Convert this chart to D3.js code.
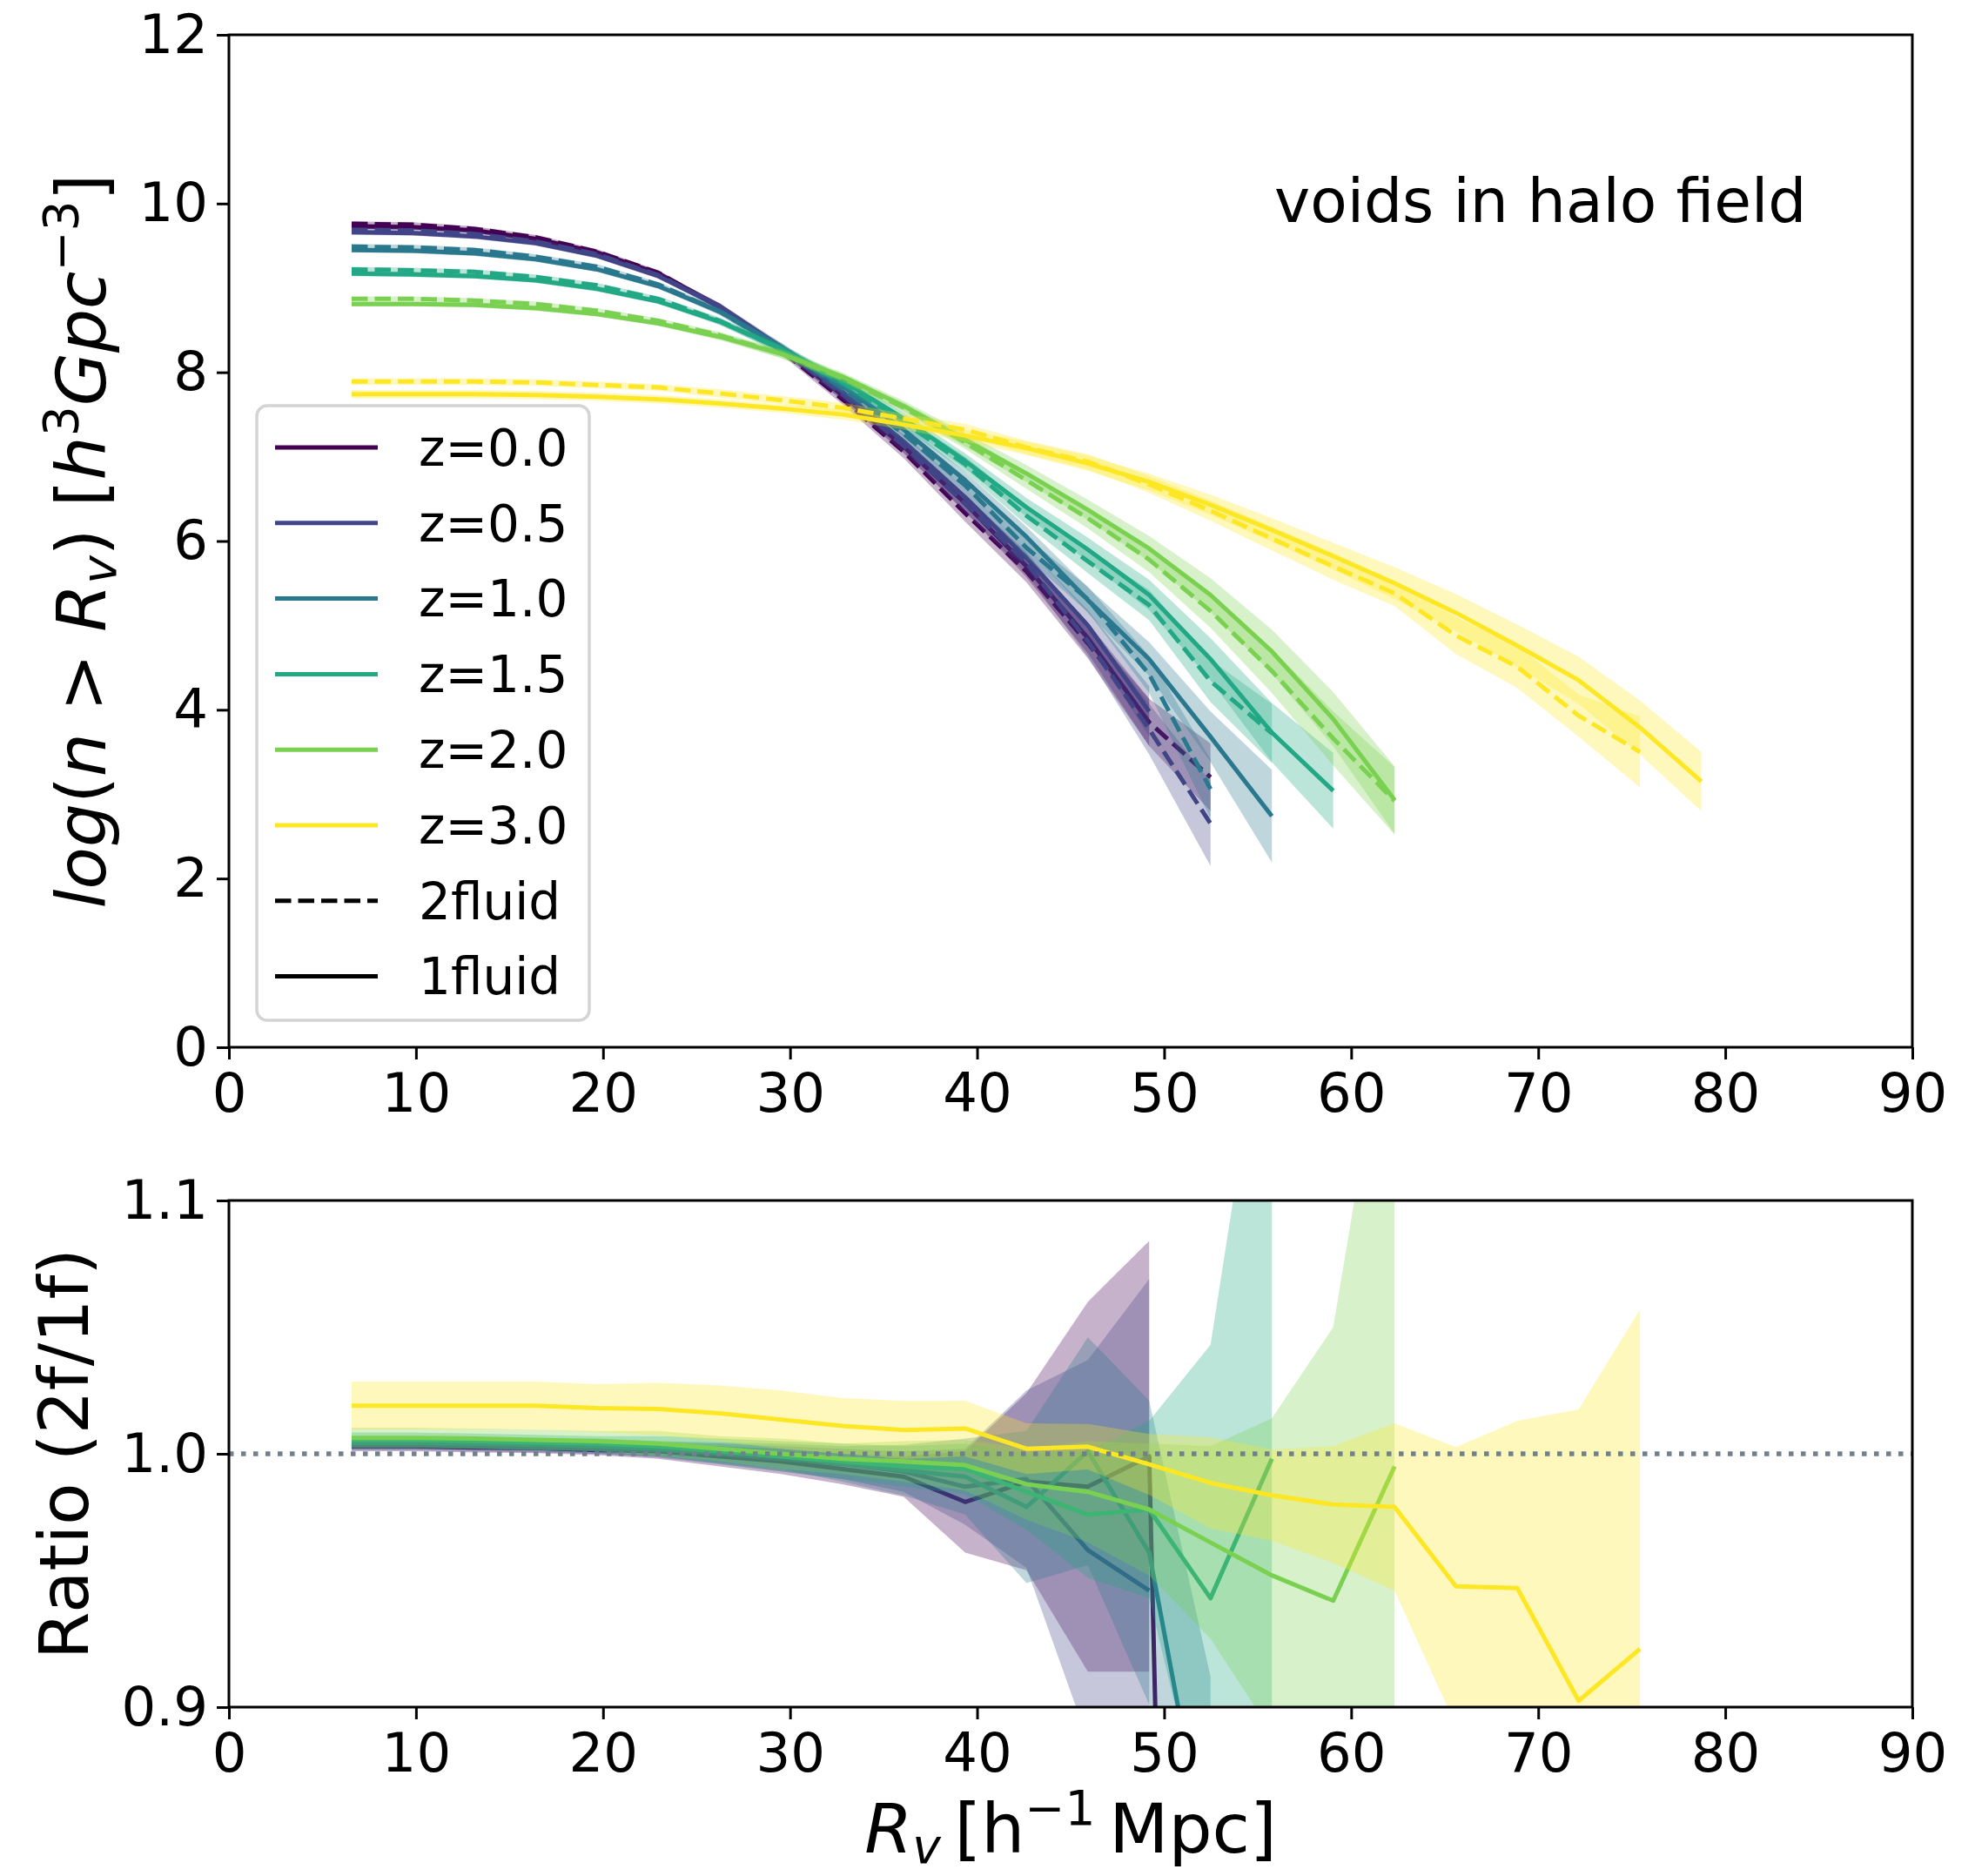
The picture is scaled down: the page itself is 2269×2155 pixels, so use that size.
<!DOCTYPE html>
<html>
<head>
<meta charset="UTF-8">
<title>voids in halo field</title>
<script src="https://d3js.org/d3.v7.min.js"></script>
<style>
  body { margin: 0; background: #fff; }
  text { font-family: 'DejaVu Sans', sans-serif; fill: #000; }
  .axis path, .axis line { stroke: #000; stroke-width: 3px; }
  .axis text { font-size: 62.5px; font-family: 'DejaVu Sans', sans-serif; }
</style>
</head>
<body>
<script>
// void radius grid [h^-1 Mpc]
const R = [6.56, 9.84, 13.12, 16.4, 19.68, 22.96, 26.24, 29.52, 32.8, 36.08, 39.36, 42.64,
           45.92, 49.2, 52.48, 55.76, 59.04, 62.32, 65.6, 68.88, 72.16, 75.44, 78.72];

const labels = ["z=0.0", "z=0.5", "z=1.0", "z=1.5", "z=2.0", "z=3.0"];
const colors = ["#440154", "#414487", "#2a788e", "#22a884", "#7ad151", "#fde725"];

// log(n>Rv), 1fluid
const one_z00 = [9.73, 9.72, 9.68, 9.58, 9.42, 9.17, 8.78, 8.28, 7.73, 7.12, 6.45, 5.7, 4.85, 3.85];
const one_z05 = [9.66, 9.65, 9.61, 9.53, 9.38, 9.14, 8.78, 8.3, 7.77, 7.18, 6.52, 5.8, 5.0, 3.98];
const one_z10 = [9.45, 9.44, 9.41, 9.34, 9.22, 9.02, 8.72, 8.3, 7.84, 7.32, 6.72, 6.05, 5.3, 4.6, 3.68, 2.74];
const one_z15 = [9.17, 9.16, 9.14, 9.09, 8.99, 8.84, 8.6, 8.28, 7.9, 7.45, 6.95, 6.4, 5.9, 5.36, 4.6, 3.73, 3.04];
const one_z20 = [8.81, 8.81, 8.8, 8.76, 8.69, 8.58, 8.42, 8.22, 7.95, 7.6, 7.2, 6.8, 6.37, 5.91, 5.36, 4.69, 3.89, 2.93];
const one_z30 = [7.74, 7.74, 7.74, 7.73, 7.71, 7.68, 7.63, 7.57, 7.5, 7.38, 7.25, 7.1, 6.92, 6.7, 6.43, 6.13,
                 5.82, 5.5, 5.15, 4.76, 4.35, 3.79, 3.15];

// log(n>Rv), 2fluid
const two_z00 = [9.76, 9.75, 9.70, 9.60, 9.43, 9.18, 8.77, 8.26, 7.68, 7.06, 6.33, 5.64, 4.79, 3.85, 3.2];
const two_z05 = [9.69, 9.68, 9.64, 9.55, 9.40, 9.15, 8.78, 8.28, 7.74, 7.13, 6.44, 5.74, 4.81, 3.77, 2.65];
const two_z10 = [9.49, 9.48, 9.45, 9.37, 9.25, 9.04, 8.72, 8.29, 7.81, 7.27, 6.66, 5.92, 5.31, 4.42, 3.06];
const two_z15 = [9.22, 9.21, 9.19, 9.13, 9.03, 8.87, 8.61, 8.27, 7.88, 7.41, 6.91, 6.30, 5.76, 5.24, 4.34, 3.72];
const two_z20 = [8.87, 8.87, 8.85, 8.81, 8.73, 8.61, 8.44, 8.22, 7.93, 7.58, 7.17, 6.72, 6.27, 5.78, 5.17, 4.46, 3.66, 2.92];
const two_z30 = [7.89, 7.89, 7.89, 7.88, 7.85, 7.82, 7.75, 7.67, 7.58, 7.45, 7.32, 7.11, 6.94, 6.67, 6.36, 6.03,
                 5.70, 5.38, 4.88, 4.51, 3.93, 3.50];

// half width of shaded bands, upper panel
const err1_z00 = [0.03, 0.03, 0.03, 0.03, 0.03, 0.03, 0.04, 0.05, 0.06, 0.08, 0.1, 0.13, 0.18, 0.28];
const err1_z05 = [0.03, 0.03, 0.03, 0.03, 0.03, 0.03, 0.04, 0.05, 0.06, 0.08, 0.1, 0.13, 0.18, 0.3];
const err1_z10 = [0.03, 0.03, 0.03, 0.03, 0.03, 0.03, 0.04, 0.05, 0.06, 0.08, 0.1, 0.12, 0.15, 0.2, 0.3, 0.55];
const err1_z15 = [0.03, 0.03, 0.03, 0.03, 0.03, 0.03, 0.04, 0.05, 0.06, 0.07, 0.09, 0.11, 0.14, 0.18, 0.25, 0.35, 0.45];
const err1_z20 = [0.03, 0.03, 0.03, 0.03, 0.03, 0.03, 0.04, 0.05, 0.05, 0.06, 0.08, 0.1, 0.12, 0.15, 0.2, 0.26, 0.32, 0.4];
const err1_z30 = [0.05, 0.05, 0.05, 0.05, 0.05, 0.05, 0.05, 0.05, 0.06, 0.06, 0.07, 0.08, 0.09, 0.1, 0.12, 0.14,
                  0.16, 0.19, 0.22, 0.25, 0.28, 0.32, 0.35];
const err2_z00 = [0.03, 0.03, 0.03, 0.03, 0.03, 0.03, 0.04, 0.05, 0.06, 0.08, 0.1, 0.13, 0.18, 0.28, 0.4];
const err2_z05 = [0.03, 0.03, 0.03, 0.03, 0.03, 0.03, 0.04, 0.05, 0.06, 0.08, 0.1, 0.13, 0.18, 0.3, 0.5];
const err2_z10 = [0.03, 0.03, 0.03, 0.03, 0.03, 0.03, 0.04, 0.05, 0.06, 0.08, 0.1, 0.12, 0.15, 0.22, 0.35];
const err2_z15 = [0.03, 0.03, 0.03, 0.03, 0.03, 0.03, 0.04, 0.05, 0.06, 0.07, 0.09, 0.11, 0.14, 0.18, 0.25, 0.35];
const err2_z20 = [0.03, 0.03, 0.03, 0.03, 0.03, 0.03, 0.04, 0.05, 0.05, 0.06, 0.08, 0.1, 0.12, 0.15, 0.2, 0.26, 0.32, 0.4];
const err2_z30 = [0.04, 0.04, 0.04, 0.04, 0.04, 0.04, 0.05, 0.05, 0.06, 0.06, 0.07, 0.08, 0.09, 0.1, 0.12, 0.14,
                  0.16, 0.15, 0.22, 0.25, 0.25, 0.42];

// ratio 2fluid / 1fluid
const ratio_z00 = [1.003, 1.003, 1.0025, 1.0023, 1.0015, 1.001, 0.999, 0.997, 0.994, 0.991, 0.981, 0.989, 0.987, 0.999, 0.0];
const ratio_z05 = [1.0035, 1.0035, 1.003, 1.0025, 1.002, 1.0015, 1.0, 0.998, 0.996, 0.993, 0.987, 0.990, 0.962, 0.946];
const ratio_z10 = [1.0043, 1.0043, 1.004, 1.0035, 1.003, 1.002, 1.0005, 0.999, 0.996, 0.9935, 0.991, 0.979, 1.001, 0.961, 0.832];
const ratio_z15 = [1.0054, 1.0054, 1.005, 1.0045, 1.004, 1.003, 1.001, 0.999, 0.997, 0.995, 0.994, 0.985, 0.976, 0.978, 0.943, 0.998];
const ratio_z20 = [1.0063, 1.0063, 1.006, 1.0055, 1.005, 1.004, 1.002, 1.0, 0.998, 0.997, 0.9955, 0.988, 0.985, 0.978,
                   0.965, 0.952, 0.942, 0.995];
const ratio_z30 = [1.019, 1.019, 1.019, 1.019, 1.018, 1.0177, 1.016, 1.0135, 1.011, 1.0094, 1.010, 1.002, 1.0028, 0.9958,
                   0.9885, 0.9836, 0.980, 0.979, 0.9477, 0.947, 0.9025, 0.923];

// half width of shaded bands, ratio panel
const rerr_z00 = [0.002, 0.002, 0.002, 0.002, 0.002, 0.003, 0.004, 0.005, 0.006, 0.008, 0.02, 0.035, 0.073, 0.085, null];
const rerr_z05 = [0.002, 0.002, 0.002, 0.002, 0.002, 0.003, 0.004, 0.005, 0.006, 0.008, 0.015, 0.035, 0.075, 0.123];
const rerr_z10 = [0.0025, 0.0025, 0.0025, 0.0025, 0.003, 0.003, 0.004, 0.005, 0.007, 0.01, 0.015, 0.03, 0.045, 0.06, 0.08];
const rerr_z15 = [0.003, 0.003, 0.003, 0.003, 0.003, 0.004, 0.005, 0.006, 0.007, 0.008, 0.01, 0.015, 0.025, 0.035, 0.1, 0.2];
const rerr_z20 = [0.004, 0.004, 0.004, 0.004, 0.004, 0.005, 0.005, 0.006, 0.006, 0.008, 0.01, 0.014, 0.02, 0.026,
                  0.038, 0.062, 0.108, 0.2];
const rerr_z30 = [0.0095, 0.0095, 0.0095, 0.0095, 0.0095, 0.0103, 0.011, 0.0115, 0.011, 0.0115, 0.011, 0.01, 0.009,
                  0.012, 0.018, 0.018, 0.023, 0.033, 0.055, 0.066, 0.115, 0.134];

const one = [one_z00, one_z05, one_z10, one_z15, one_z20, one_z30];
const two = [two_z00, two_z05, two_z10, two_z15, two_z20, two_z30];
const err1 = [err1_z00, err1_z05, err1_z10, err1_z15, err1_z20, err1_z30];
const err2 = [err2_z00, err2_z05, err2_z10, err2_z15, err2_z20, err2_z30];
const ratio = [ratio_z00, ratio_z05, ratio_z10, ratio_z15, ratio_z20, ratio_z30];
const rerr = [rerr_z00, rerr_z05, rerr_z10, rerr_z15, rerr_z20, rerr_z30];

const W = 2269, H = 2155;
const left = 263, right = 2197;
const top1 = 40, bot1 = 1203;
const top2 = 1379, bot2 = 1961;
const LW = 5;
const DASH = "18.5,8";

const svg = d3.select("body").append("svg")
  .attr("width", W).attr("height", H)
  .attr("viewBox", `0 0 ${W} ${H}`);

const x = d3.scaleLinear().domain([0, 90]).range([left, right]);
const y1 = d3.scaleLinear().domain([0, 12]).range([bot1, top1]);
const y2 = d3.scaleLinear().domain([0.9, 1.1]).range([bot2, top2]);

const defs = svg.append("defs");
defs.append("clipPath").attr("id", "clipTop").append("rect")
  .attr("x", left).attr("y", top1).attr("width", right - left).attr("height", bot1 - top1);
defs.append("clipPath").attr("id", "clipBot").append("rect")
  .attr("x", left).attr("y", top2).attr("width", right - left).attr("height", bot2 - top2);

// turn arrays into point lists
function pts(vals, errs) {
  return vals.map((v, i) => ({ x: R[i], y: v, e: errs ? errs[i] : null }));
}

// ---------- upper panel ----------
const gTop = svg.append("g").attr("clip-path", "url(#clipTop)");

function drawSeries(g, ys, data, errs, color, dashed) {
  const p = pts(data, errs);
  const area = d3.area()
    .defined(d => d.e != null)
    .x(d => x(d.x))
    .y0(d => ys(d.y - d.e))
    .y1(d => ys(d.y + d.e));
  g.append("path").datum(p)
    .attr("d", area)
    .attr("fill", color).attr("fill-opacity", 0.3).attr("stroke", "none");
  const line = d3.line().x(d => x(d.x)).y(d => ys(d.y));
  g.append("path").datum(p)
    .attr("d", line)
    .attr("fill", "none")
    .attr("stroke", color)
    .attr("stroke-width", LW)
    .attr("stroke-linejoin", "round")
    .attr("stroke-dasharray", dashed ? DASH : null);
}

for (let i = 0; i < labels.length; i++) {
  drawSeries(gTop, y1, one[i], err1[i], colors[i], false);
  drawSeries(gTop, y1, two[i], err2[i], colors[i], true);
}

// ---------- lower panel ----------
const gBot = svg.append("g").attr("clip-path", "url(#clipBot)");
for (let i = 0; i < labels.length; i++) {
  drawSeries(gBot, y2, ratio[i], rerr[i], colors[i], false);
}
gBot.append("line")
  .attr("x1", left).attr("x2", right)
  .attr("y1", y2(1.0)).attr("y2", y2(1.0))
  .attr("stroke", "#708090").attr("stroke-width", 5.5)
  .attr("stroke-dasharray", "5.5,8.5");

// ---------- axes ----------
function axes(ys, yTicks, yFmt, yTop, yBot) {
  svg.append("g").attr("class", "axis")
    .attr("transform", `translate(0,${yBot})`)
    .call(d3.axisBottom(x).tickValues(d3.range(0, 91, 10)).tickSize(14).tickSizeOuter(0).tickPadding(16));
  svg.append("g").attr("class", "axis")
    .attr("transform", `translate(${left},0)`)
    .call(d3.axisLeft(ys).tickValues(yTicks).tickFormat(yFmt).tickSize(14).tickSizeOuter(0).tickPadding(10));
  svg.append("rect")
    .attr("x", left).attr("y", yTop)
    .attr("width", right - left).attr("height", yBot - yTop)
    .attr("fill", "none").attr("stroke", "#000").attr("stroke-width", 3);
}
axes(y1, d3.range(0, 13, 2), d3.format("d"), top1, bot1);
axes(y2, [0.9, 1.0, 1.1], d3.format(".1f"), top2, bot2);
svg.selectAll(".axis .domain").remove();

// ---------- labels ----------
const ylab1 = svg.append("text")
  .attr("transform", `translate(121,${(top1 + bot1) / 2}) rotate(-90)`)
  .attr("text-anchor", "middle").attr("font-size", 79);
ylab1.append("tspan").attr("font-style", "italic").text("log");
ylab1.append("tspan").text("(");
ylab1.append("tspan").attr("font-style", "italic").text("n");
ylab1.append("tspan").text(" > ");
ylab1.append("tspan").attr("font-style", "italic").text("R");
ylab1.append("tspan").attr("font-style", "italic").attr("font-size", 55).attr("dy", 12).text("v");
ylab1.append("tspan").attr("dy", -12).text(") [");
ylab1.append("tspan").attr("font-style", "italic").text("h");
ylab1.append("tspan").attr("font-size", 55).attr("dy", -32).text("3");
ylab1.append("tspan").attr("font-style", "italic").attr("dy", 32).text("Gpc");
ylab1.append("tspan").attr("font-size", 55).attr("dy", -32).text("\u22123");
ylab1.append("tspan").attr("dy", 32).text("]");

svg.append("text")
  .attr("transform", `translate(101,${(top2 + bot2) / 2}) rotate(-90)`)
  .attr("text-anchor", "middle").attr("font-size", 79)
  .text("Ratio (2f/1f)");

const xlab = svg.append("text")
  .attr("x", (left + right) / 2).attr("y", 2128)
  .attr("text-anchor", "middle").attr("font-size", 79);
xlab.append("tspan").attr("font-style", "italic").text("R");
xlab.append("tspan").attr("font-style", "italic").attr("font-size", 55).attr("dy", 12).text("v");
xlab.append("tspan").attr("dy", -12).text("\u2009[h");
xlab.append("tspan").attr("font-size", 55).attr("dy", -32).text("\u22121");
xlab.append("tspan").attr("dy", 32).text("\u2009Mpc]");

svg.append("text")
  .attr("x", 1464).attr("y", 255)
  .attr("font-size", 69.5)
  .text("voids in halo field");

// ---------- legend ----------
const leg = svg.append("g");
leg.append("rect")
  .attr("x", 295).attr("y", 466).attr("width", 382).attr("height", 706)
  .attr("rx", 12).attr("ry", 12)
  .attr("fill", "#fff").attr("fill-opacity", 0.8)
  .attr("stroke", "#d4d4d4").attr("stroke-width", 3.5);
const legItems = labels.map((l, i) => ({ label: l, color: colors[i], dash: null }))
  .concat([{ label: "2fluid", color: "#000", dash: DASH }, { label: "1fluid", color: "#000", dash: null }]);
legItems.forEach((d, i) => {
  const yy = 514 + 86.8 * i;
  leg.append("line")
    .attr("x1", 316).attr("x2", 434).attr("y1", yy).attr("y2", yy)
    .attr("stroke", d.color).attr("stroke-width", LW)
    .attr("stroke-dasharray", d.dash);
  leg.append("text")
    .attr("x", 481).attr("y", yy).attr("dy", "0.36em")
    .attr("font-size", 58)
    .text(d.label);
});
</script>
</body>
</html>
